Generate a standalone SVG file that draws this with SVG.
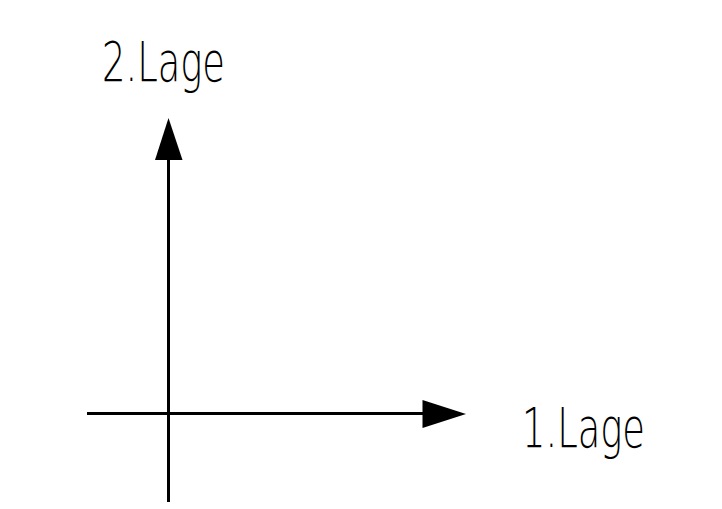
<svg xmlns="http://www.w3.org/2000/svg" width="722" height="509" viewBox="0 0 722 509">
<style>
.ax{stroke:#000;stroke-width:3;fill:none}
.head{fill:#000;stroke:none}
.lbl{font-family:"DejaVu Sans","Liberation Sans",sans-serif;font-weight:200;font-size:55px;fill:#000}
</style>
<rect width="722" height="509" fill="#fff"/>
<g id="connectors">
<line class="ax" x1="168.5" y1="158" x2="168.5" y2="502"/>
<polygon class="head" points="168.5,118 155,160 182.5,160"/>
<line class="ax" x1="87" y1="413.5" x2="425" y2="413.5"/>
<polygon class="head" points="466,414 422.5,400 422.5,428"/>
</g>
<g id="label-2">
<text class="lbl" x="102" y="81" textLength="123" lengthAdjust="spacingAndGlyphs">2.Lage</text>
</g>
<g id="label-1">
<text class="lbl" x="522" y="447" textLength="123" lengthAdjust="spacingAndGlyphs">1.Lage</text>
</g>
</svg>
